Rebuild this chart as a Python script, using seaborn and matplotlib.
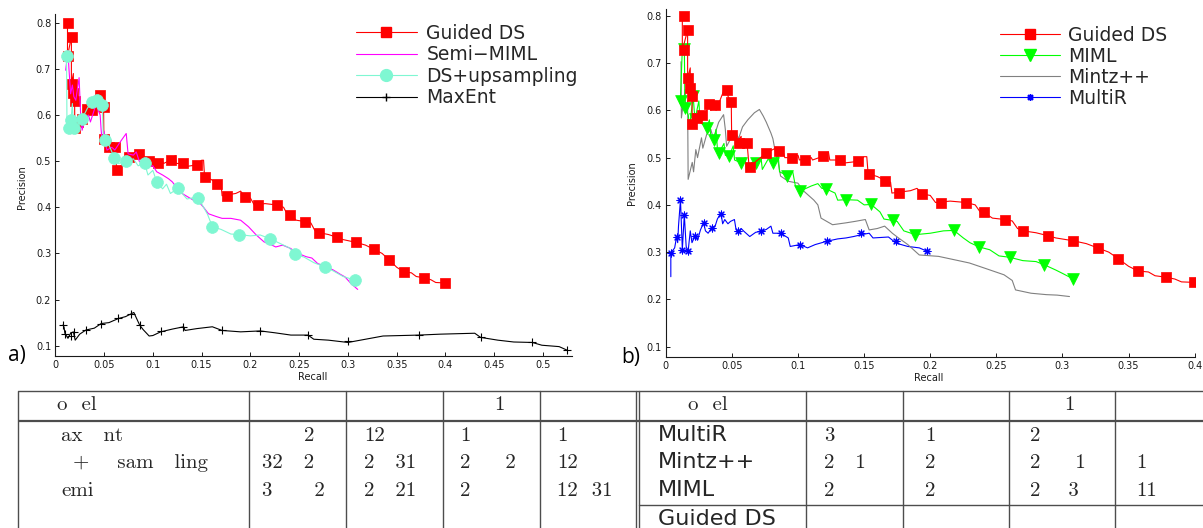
import matplotlib
matplotlib.use("Agg")
import matplotlib.pyplot as plt
import seaborn as sns
from matplotlib.lines import Line2D

# ---------------- data ----------------
# Guided DS (shared by both panels)
guided_line_x = [0.0125, 0.0125, 0.0165, 0.0165, 0.0185, 0.0185, 0.0198, 0.0198, 0.0200, 0.0233, 0.0240, 0.0271, 0.0280,
                 0.0329, 0.0340, 0.0373, 0.0380, 0.0440, 0.0470, 0.0470, 0.0495, 0.0498, 0.0530, 0.0530, 0.0570, 0.0570,
                 0.0615, 0.0630, 0.0760, 0.0830, 0.0854, 0.0880, 0.0900, 0.0956, 0.1000, 0.1010, 0.1100, 0.1110, 0.1189,
                 0.1230, 0.1240, 0.1314, 0.1330, 0.1451, 0.1500, 0.1520, 0.1530, 0.1600, 0.1661, 0.1700, 0.1710, 0.1850,
                 0.1900, 0.1940, 0.2000, 0.2040, 0.2150, 0.2272, 0.2340, 0.2380, 0.2406, 0.2470, 0.2564, 0.2620, 0.2660,
                 0.2704, 0.2800, 0.2887, 0.2950, 0.3082, 0.3180, 0.3266, 0.3350, 0.3423, 0.3500, 0.3572, 0.3650, 0.3700,
                 0.3782, 0.3850, 0.3900, 0.3994]
guided_line_y = [0.800, 0.727, 0.770, 0.668, 0.690, 0.648, 0.660, 0.630, 0.572, 0.584, 0.575, 0.591, 0.580,
                 0.613, 0.600, 0.611, 0.600, 0.643, 0.645, 0.630, 0.618, 0.547, 0.555, 0.531, 0.545, 0.530,
                 0.530, 0.480, 0.510, 0.520, 0.515, 0.520, 0.500, 0.500, 0.505, 0.495, 0.500, 0.495, 0.503,
                 0.512, 0.495, 0.495, 0.488, 0.492, 0.502, 0.502, 0.466, 0.460, 0.451, 0.448, 0.425, 0.430,
                 0.435, 0.423, 0.420, 0.405, 0.408, 0.405, 0.400, 0.384, 0.384, 0.372, 0.369, 0.366, 0.350,
                 0.345, 0.341, 0.335, 0.330, 0.324, 0.318, 0.309, 0.300, 0.286, 0.270, 0.260, 0.258, 0.250,
                 0.247, 0.243, 0.237, 0.236]
guided_mark_x = [0.0134, 0.0169, 0.0134, 0.0169, 0.0186, 0.0198, 0.0198, 0.0233, 0.0271, 0.0329, 0.0373, 0.0460,
                 0.0495, 0.0498, 0.0554, 0.0615, 0.0635, 0.0760, 0.0854, 0.0956, 0.1052, 0.1189, 0.1314, 0.1451,
                 0.1538, 0.1661, 0.1763, 0.1940, 0.2080, 0.2272, 0.2406, 0.2564, 0.2704, 0.2887, 0.3082, 0.3266,
                 0.3423, 0.3572, 0.3782, 0.3994]
guided_mark_y = [0.800, 0.770, 0.727, 0.668, 0.648, 0.630, 0.572, 0.584, 0.591, 0.613, 0.611, 0.643,
                 0.618, 0.547, 0.531, 0.530, 0.480, 0.510, 0.515, 0.500, 0.495, 0.503, 0.495, 0.492,
                 0.466, 0.451, 0.425, 0.423, 0.405, 0.405, 0.384, 0.369, 0.345, 0.335, 0.324, 0.309,
                 0.286, 0.260, 0.247, 0.236]

# Semi-MIML (panel a)
semi_x = [0.0106, 0.0130, 0.0140, 0.0157, 0.0175, 0.0190, 0.0210, 0.0244, 0.0260, 0.0275, 0.0300, 0.0314, 0.0340,
          0.0360, 0.0390, 0.0420, 0.0432, 0.0440, 0.0460, 0.0470, 0.0480, 0.0500, 0.0510, 0.0530, 0.0580, 0.0610,
          0.0660, 0.0710, 0.0727, 0.0746, 0.0800, 0.0830, 0.0860, 0.0900, 0.0960, 0.1000, 0.1040, 0.1100, 0.1160,
          0.1200, 0.1240, 0.1300, 0.1355, 0.1420, 0.1470, 0.1520, 0.1570, 0.1650, 0.1710, 0.1800, 0.1900, 0.1980,
          0.2060, 0.2140, 0.2200, 0.2260, 0.2330, 0.2410, 0.2490, 0.2570, 0.2630, 0.2690, 0.2770, 0.2850, 0.2920,
          0.2970, 0.3030, 0.3100]
semi_y = [0.697, 0.740, 0.700, 0.646, 0.665, 0.640, 0.632, 0.681, 0.600, 0.567, 0.590, 0.592, 0.600,
          0.585, 0.605, 0.625, 0.632, 0.610, 0.600, 0.567, 0.545, 0.565, 0.540, 0.524, 0.530, 0.524,
          0.540, 0.555, 0.560, 0.516, 0.513, 0.520, 0.500, 0.495, 0.488, 0.490, 0.477, 0.470, 0.462,
          0.455, 0.444, 0.430, 0.423, 0.415, 0.412, 0.400, 0.386, 0.380, 0.376, 0.376, 0.372, 0.358,
          0.340, 0.325, 0.320, 0.314, 0.318, 0.311, 0.300, 0.293, 0.290, 0.278, 0.272, 0.264, 0.255,
          0.249, 0.235, 0.222]

# DS+upsampling (panel a)
ups_line_x = [0.0115, 0.0120, 0.0161, 0.0175, 0.0185, 0.0196, 0.0230, 0.0275, 0.0330, 0.0373, 0.0400, 0.0432, 0.0460,
              0.0483, 0.0490, 0.0510, 0.0550, 0.0580, 0.0600, 0.0650, 0.0727, 0.0800, 0.0850, 0.0915, 0.0950, 0.1000,
              0.1040, 0.1100, 0.1140, 0.1180, 0.1257, 0.1300, 0.1350, 0.1400, 0.1465, 0.1520, 0.1560, 0.1610, 0.1700,
              0.1800, 0.1885, 0.2000, 0.2100, 0.2200, 0.2300, 0.2400, 0.2455, 0.2550, 0.2650, 0.2760, 0.2850, 0.2950,
              0.3075]
ups_line_y = [0.727, 0.571, 0.589, 0.625, 0.575, 0.571, 0.580, 0.592, 0.615, 0.628, 0.640, 0.633, 0.625,
              0.622, 0.560, 0.545, 0.535, 0.520, 0.507, 0.495, 0.500, 0.505, 0.490, 0.496, 0.470, 0.480,
              0.455, 0.440, 0.450, 0.430, 0.441, 0.430, 0.418, 0.420, 0.421, 0.400, 0.385, 0.358, 0.352,
              0.342, 0.341, 0.338, 0.340, 0.332, 0.322, 0.312, 0.298, 0.292, 0.280, 0.271, 0.262, 0.250,
              0.242]
ups_mark_x = [0.0118, 0.0137, 0.0161, 0.0196, 0.0275, 0.0373, 0.0432, 0.0483, 0.0510, 0.0600, 0.0727, 0.0915, 0.1040,
              0.1257, 0.1465, 0.1610, 0.1885, 0.2200, 0.2455, 0.2760, 0.3075]
ups_mark_y = [0.727, 0.571, 0.589, 0.571, 0.592, 0.628, 0.633, 0.622, 0.545, 0.507, 0.500, 0.496, 0.455,
              0.441, 0.421, 0.358, 0.341, 0.332, 0.298, 0.271, 0.242]

# MaxEnt (panel a)
maxent_x = [0.0079, 0.0090, 0.0098, 0.0130, 0.0157, 0.0185, 0.0204, 0.0250, 0.0314, 0.0400, 0.0470, 0.0550, 0.0648,
            0.0720, 0.0786, 0.0805, 0.0864, 0.0900, 0.0962, 0.1000, 0.1080, 0.1200, 0.1316, 0.1330, 0.1450, 0.1610,
            0.1710, 0.1900, 0.2100, 0.2250, 0.2415, 0.2590, 0.2650, 0.2800, 0.3000, 0.3360, 0.3730, 0.3947, 0.4300,
            0.4360, 0.4536, 0.4700, 0.4890, 0.4988, 0.5165, 0.5250]
maxent_y = [0.145, 0.140, 0.127, 0.116, 0.127, 0.130, 0.112, 0.125, 0.134, 0.138, 0.148, 0.150, 0.159,
            0.163, 0.170, 0.172, 0.145, 0.135, 0.121, 0.122, 0.130, 0.136, 0.141, 0.133, 0.137, 0.141,
            0.133, 0.130, 0.132, 0.128, 0.123, 0.123, 0.114, 0.112, 0.107, 0.121, 0.123, 0.125, 0.127,
            0.118, 0.112, 0.108, 0.107, 0.101, 0.098, 0.090]
maxent_mark_x = [0.0079, 0.0098, 0.0160, 0.0190, 0.0310, 0.0470, 0.0640, 0.0780, 0.0870, 0.1080, 0.1310, 0.1710,
                 0.2100, 0.2590, 0.3000, 0.3730, 0.4360, 0.4890, 0.5250]
maxent_mark_y = [0.145, 0.125, 0.121, 0.130, 0.134, 0.147, 0.159, 0.169, 0.145, 0.131, 0.140, 0.135,
                 0.132, 0.123, 0.110, 0.123, 0.119, 0.108, 0.091]

# MIML (panel b)
miml_line_x = [0.0110, 0.0125, 0.0140, 0.0145, 0.0170, 0.0180, 0.0207, 0.0215, 0.0221, 0.0250, 0.0260, 0.0309, 0.0330,
               0.0340, 0.0364, 0.0380, 0.0390, 0.0402, 0.0440, 0.0450, 0.0480, 0.0510, 0.0520, 0.0571, 0.0600, 0.0610,
               0.0650, 0.0679, 0.0720, 0.0730, 0.0780, 0.0810, 0.0850, 0.0860, 0.0920, 0.0960, 0.0980, 0.1014, 0.1100,
               0.1150, 0.1180, 0.1212, 0.1280, 0.1300, 0.1363, 0.1450, 0.1500, 0.1553, 0.1620, 0.1650, 0.1719, 0.1750,
               0.1800, 0.1888, 0.2000, 0.2100, 0.2179, 0.2250, 0.2300, 0.2369, 0.2450, 0.2520, 0.2602, 0.2700, 0.2800,
               0.2864, 0.2950, 0.3000, 0.3082]
miml_line_y = [0.620, 0.730, 0.735, 0.606, 0.590, 0.565, 0.630, 0.600, 0.581, 0.620, 0.575, 0.563, 0.580,
               0.545, 0.538, 0.560, 0.520, 0.510, 0.530, 0.505, 0.503, 0.525, 0.495, 0.489, 0.500, 0.470,
               0.490, 0.489, 0.500, 0.475, 0.500, 0.489, 0.505, 0.470, 0.462, 0.470, 0.440, 0.429, 0.440,
               0.445, 0.435, 0.434, 0.425, 0.410, 0.411, 0.410, 0.400, 0.401, 0.385, 0.370, 0.367, 0.365,
               0.345, 0.337, 0.340, 0.345, 0.346, 0.330, 0.320, 0.311, 0.305, 0.292, 0.289, 0.282, 0.280,
               0.273, 0.262, 0.255, 0.243]
miml_mark_x = [0.0134, 0.0117, 0.0146, 0.0207, 0.0221, 0.0309, 0.0364, 0.0402, 0.0480, 0.0571, 0.0679, 0.0810,
               0.0920, 0.1014, 0.1212, 0.1363, 0.1553, 0.1719, 0.1888, 0.2179, 0.2369, 0.2602, 0.2864, 0.3082]
miml_mark_y = [0.731, 0.620, 0.606, 0.630, 0.581, 0.563, 0.538, 0.510, 0.503, 0.489, 0.489, 0.489,
               0.462, 0.429, 0.434, 0.411, 0.401, 0.367, 0.337, 0.346, 0.311, 0.289, 0.273, 0.243]

# Mintz++ (panel b)
mintz_x = [0.0115, 0.0118, 0.0146, 0.0150, 0.0165, 0.0169, 0.0200, 0.0210, 0.0227, 0.0240, 0.0270, 0.0280, 0.0310,
           0.0340, 0.0360, 0.0400, 0.0437, 0.0450, 0.0460, 0.0500, 0.0533, 0.0550, 0.0580, 0.0620, 0.0670, 0.0708,
           0.0737, 0.0760, 0.0795, 0.0810, 0.0825, 0.0850, 0.0868, 0.0926, 0.0999, 0.1040, 0.1072, 0.1120, 0.1150,
           0.1174, 0.1261, 0.1363, 0.1430, 0.1509, 0.1538, 0.1600, 0.1655, 0.1713, 0.1760, 0.1830, 0.1917, 0.2063,
           0.2180, 0.2296, 0.2412, 0.2558, 0.2620, 0.2645, 0.2762, 0.2878, 0.2960, 0.3053]
mintz_y = [0.703, 0.584, 0.644, 0.600, 0.620, 0.454, 0.490, 0.470, 0.517, 0.500, 0.542, 0.520, 0.550,
           0.560, 0.540, 0.575, 0.591, 0.560, 0.524, 0.545, 0.552, 0.540, 0.565, 0.580, 0.595, 0.602,
           0.588, 0.575, 0.552, 0.540, 0.517, 0.490, 0.461, 0.450, 0.446, 0.430, 0.422, 0.410, 0.400,
           0.372, 0.358, 0.362, 0.365, 0.369, 0.347, 0.350, 0.355, 0.340, 0.330, 0.316, 0.294, 0.291,
           0.284, 0.277, 0.266, 0.252, 0.240, 0.220, 0.213, 0.210, 0.209, 0.206]

# MultiR (panel b)
multir_x = [0.0038, 0.0038, 0.0067, 0.0082, 0.0090, 0.0096, 0.0111, 0.0125, 0.0140, 0.0154, 0.0169, 0.0185, 0.0198,
            0.0221, 0.0240, 0.0262, 0.0286, 0.0300, 0.0320, 0.0349, 0.0373, 0.0390, 0.0417, 0.0430, 0.0446, 0.0470,
            0.0489, 0.0519, 0.0530, 0.0548, 0.0570, 0.0591, 0.0635, 0.0680, 0.0723, 0.0760, 0.0795, 0.0810, 0.0868,
            0.0926, 0.0941, 0.1014, 0.1072, 0.1130, 0.1218, 0.1300, 0.1363, 0.1420, 0.1480, 0.1538, 0.1567, 0.1684,
            0.1742, 0.1830, 0.1917, 0.1975]
multir_y = [0.248, 0.298, 0.309, 0.333, 0.320, 0.355, 0.411, 0.305, 0.379, 0.312, 0.302, 0.345, 0.320,
            0.334, 0.325, 0.347, 0.362, 0.345, 0.340, 0.352, 0.355, 0.370, 0.383, 0.360, 0.369, 0.360,
            0.365, 0.369, 0.350, 0.340, 0.350, 0.344, 0.333, 0.342, 0.344, 0.348, 0.355, 0.340, 0.340,
            0.330, 0.312, 0.316, 0.309, 0.316, 0.323, 0.328, 0.330, 0.333, 0.337, 0.340, 0.330, 0.332,
            0.319, 0.312, 0.309, 0.302]
multir_mark_x = [0.0038, 0.0082, 0.0111, 0.0125, 0.0140, 0.0169, 0.0221, 0.0286, 0.0349, 0.0417, 0.0548, 0.0723,
                 0.0868, 0.1014, 0.1218, 0.1480, 0.1742, 0.1975]
multir_mark_y = [0.298, 0.333, 0.411, 0.305, 0.379, 0.302, 0.334, 0.362, 0.352, 0.380, 0.345, 0.345,
                 0.340, 0.315, 0.323, 0.340, 0.323, 0.303]

# axis ticks
y_ticks = [0.1, 0.2, 0.3, 0.4, 0.5, 0.6, 0.7, 0.8]
y_tick_labels = ["0.1", "0.2", "0.3", "0.4", "0.5", "0.6", "0.7", "0.8"]
a_x_ticks = [0, 0.05, 0.1, 0.15, 0.2, 0.25, 0.3, 0.35, 0.4, 0.45, 0.5]
a_x_tick_labels = ["0", "0.05", "0.1", "0.15", "0.2", "0.25", "0.3", "0.35", "0.4", "0.45", "0.5"]
b_x_ticks = [0, 0.05, 0.1, 0.15, 0.2, 0.25, 0.3, 0.35, 0.4]
b_x_tick_labels = ["0", "0.05", "0.1", "0.15", "0.2", "0.25", "0.3", "0.35", "0.4"]

# legends
a_legend = ["Guided DS", "Semi\u2212MIML", "DS+upsampling", "MaxEnt"]
b_legend = ["Guided DS", "MIML", "Mintz++", "MultiR"]

# table (text as it appears)
left_header = ["o  el", "", "", "     1", ""]
left_rows = [["ax   nt", "      2", "12", "1", "1"],
             ["+    sam   ling", "32   2", "2   31", "2     2", "12"],
             ["emi", "3      2", "2   21", "2", "12  31"]]
right_header = ["o  el", "", "", "     1", ""]
right_rows = [["MultiR", "3", "1", "2", ""],
              ["Mintz++", "2   1", "2", "2     1", "1"],
              ["MIML", "2", "2", "2    3", "11"],
              ["Guided DS", "", "", "", ""]]

# ---------------- style ----------------
sns.set_theme(style="ticks")
plt.rcParams["font.family"] = ["DejaVu Sans"]
plt.rcParams["axes.unicode_minus"] = True

W, H = 1203, 528
fig = plt.figure(figsize=(W / 100, H / 100), dpi=100)
fig.patch.set_facecolor("white")

RED = "#FF0000"
MAG = "#FF00FF"
AQUA = "#7FF7D2"
GREEN = "#00FF00"
GRAY = "#808080"
BLUE = "#0000FF"
ASTER = (8, 2, 0)


def px_axes(x0, y0, x1, y1):
    return fig.add_axes([x0 / W, 1 - y1 / H, (x1 - x0) / W, (y1 - y0) / H])


def series(ax, lx, ly, color, lw=0.8, z=2, mx=None, my=None, marker=None, ms=6, filled=True, mcolor=None):
    sns.lineplot(x=lx, y=ly, sort=False, estimator=None, color=color, lw=lw, ax=ax, zorder=z, legend=False)
    if mx is not None:
        mc = mcolor or color
        if filled:
            sns.scatterplot(x=mx, y=my, marker=marker, s=ms ** 2, color=mc, edgecolor=mc, linewidth=0.5,
                            ax=ax, zorder=z + 0.5, legend=False)
        else:
            sns.scatterplot(x=mx, y=my, marker=marker, s=ms ** 2, color=mc, linewidth=0.8,
                            ax=ax, zorder=z + 0.5, legend=False)


def style_axes(ax, xlim, ylim, xticks, xlabels):
    ax.set_xlim(*xlim)
    ax.set_ylim(*ylim)
    ax.set_xticks(xticks)
    ax.set_xticklabels(xlabels)
    ax.set_yticks(y_ticks)
    ax.set_yticklabels(y_tick_labels)
    ax.set_facecolor("white")
    sns.despine(ax=ax)
    for s in ("left", "bottom"):
        ax.spines[s].set_color("#1a1a1a")
        ax.spines[s].set_linewidth(0.8)
    ax.tick_params(direction="in", length=3, width=0.7, pad=3, labelsize=7, colors="#1a1a1a")
    ax.set_xlabel("")
    ax.set_ylabel("")


# ---------------- panel a ----------------
axa = px_axes(55.3, 14, 572.3, 355.7)
series(axa, guided_line_x, guided_line_y, RED, z=2, mx=guided_mark_x, my=guided_mark_y, marker="s", ms=7.5)
series(axa, semi_x, semi_y, MAG, z=3)
series(axa, ups_line_x, ups_line_y, AQUA, z=4, mx=ups_mark_x, my=ups_mark_y, marker="o", ms=8.5)
series(axa, maxent_x, maxent_y, "black", z=5, mx=maxent_mark_x, my=maxent_mark_y, marker="+", ms=6, filled=False)
style_axes(axa, (0, 0.53), (0.0783, 0.819), a_x_ticks, a_x_tick_labels)

ha = [Line2D([], [], color=RED, lw=0.8, marker="s", ms=7.5, mfc=RED, mec=RED),
      Line2D([], [], color=MAG, lw=0.8),
      Line2D([], [], color=AQUA, lw=0.8, marker="o", ms=8.5, mfc=AQUA, mec=AQUA),
      Line2D([], [], color="black", lw=0.8, marker="+", ms=6)]
axa.legend(ha, a_legend, loc="upper left", bbox_to_anchor=(356 / W, 1 - 24 / H), bbox_transform=fig.transFigure,
           frameon=False, fontsize=13.5, handlelength=3.25, handletextpad=0.5, labelspacing=0.13,
           borderpad=0, borderaxespad=0, numpoints=1)

# ---------------- panel b ----------------
axb = px_axes(665.8, 9.3, 1194.7, 357)
series(axb, multir_x, multir_y, BLUE, z=2, mx=multir_mark_x, my=multir_mark_y, marker=ASTER, ms=5, filled=False)
series(axb, mintz_x, mintz_y, GRAY, z=3)
series(axb, miml_line_x, miml_line_y, GREEN, z=4, mx=miml_mark_x, my=miml_mark_y, marker="v", ms=8.5)
series(axb, guided_line_x, guided_line_y, RED, z=5, mx=guided_mark_x, my=guided_mark_y, marker="s", ms=7.5)
style_axes(axb, (0, 0.4), (0.078, 0.814), b_x_ticks, b_x_tick_labels)

hb = [Line2D([], [], color=RED, lw=0.8, marker="s", ms=7.5, mfc=RED, mec=RED),
      Line2D([], [], color=GREEN, lw=0.8, marker="v", ms=8.5, mfc=GREEN, mec=GREEN),
      Line2D([], [], color=GRAY, lw=0.8),
      Line2D([], [], color=BLUE, lw=0.8, marker=ASTER, ms=5)]
axb.legend(hb, b_legend, loc="upper left", bbox_to_anchor=(1000 / W, 1 - 26 / H), bbox_transform=fig.transFigure,
           frameon=False, fontsize=13.5, handlelength=3.2, handletextpad=0.45, labelspacing=0.1,
           borderpad=0, borderaxespad=0, numpoints=1)

# axis labels and panel letters
for txt, x, y, rot in [("Precision", 22, 187, 90), ("Recall", 312.5, 376.5, 0),
                       ("Precision", 632, 183.5, 90), ("Recall", 929, 378, 0)]:
    fig.text(x / W, 1 - y / H, txt, rotation=rot, ha="center", va="center", fontsize=7, color="#1a1a1a")
fig.text(8 / W, 1 - 361 / H, "a)", ha="left", va="baseline", fontsize=15, family=["Open Sans", "DejaVu Sans"],
         color="black")
fig.text(621 / W, 1 - 362.5 / H, "b)", ha="left", va="baseline", fontsize=15, family=["Open Sans", "DejaVu Sans"],
         color="black")

# ---------------- table ----------------
tab = fig.add_axes([0, 0, 1, 1], zorder=-1)
tab.set_xlim(0, W)
tab.set_ylim(H, 0)
tab.axis("off")
LC = "#4d4d4d"
for yy, lw in [(390.5, 1.0), (421, 1.6)]:
    tab.plot([18, W], [yy, yy], color=LC, lw=lw, solid_capstyle="butt")
tab.plot([638.5, W], [505, 505], color=LC, lw=1.0)
for xx in [18, 249, 346, 443, 540, 635.5, 638.5, 806, 903, 1009, 1115]:
    tab.plot([xx, xx], [390.5, H], color=LC, lw=1.0)

SERIF = ["cmr10", "DejaVu Serif"]
SANS = ["DejaVu Sans"]
TS = 15
left_cols = [61, 262, 364, 460, 557]
right_cols = [658, 824, 925, 1030, 1136]
baselines = [441, 468, 495.5, 525]
header_base = 410

for j, t in enumerate(left_header):
    if t:
        tab.text(57 if j == 0 else left_cols[j], header_base, t, family=SERIF, fontsize=TS, va="baseline")
for j, t in enumerate(right_header):
    if t:
        tab.text(688 if j == 0 else right_cols[j], header_base, t, family=SERIF, fontsize=TS, va="baseline")
for i, row in enumerate(left_rows):
    for j, t in enumerate(row):
        if t:
            x = left_cols[j] + (12 if (j == 0 and t.startswith("+")) else 0)
            tab.text(x, baselines[i], t, family=SERIF, fontsize=TS, va="baseline")
for i, row in enumerate(right_rows):
    for j, t in enumerate(row):
        if t:
            if j == 0:
                tab.text(right_cols[j], baselines[i], t, family=SANS, fontsize=16, va="baseline")
            else:
                tab.text(right_cols[j], baselines[i], t, family=SERIF, fontsize=TS, va="baseline")

fig.savefig("out.png", dpi=100, facecolor="white")
